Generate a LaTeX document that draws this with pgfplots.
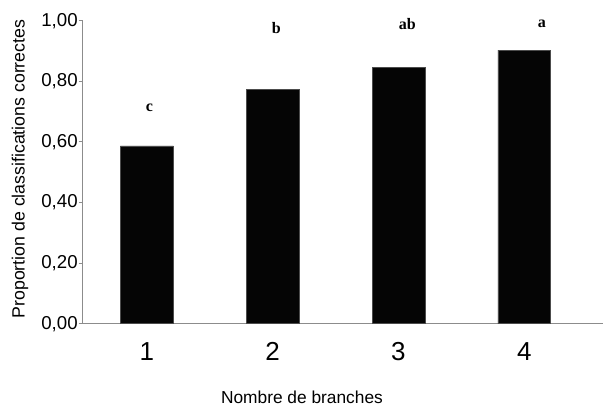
\documentclass[border=0pt]{standalone}
\usepackage{pgfplots}
\pgfplotsset{compat=1.18}
\usepackage{fontspec}
\setmainfont{Liberation Sans}
\newfontfamily\seriffont{Liberation Serif}
\definecolor{axgray}{HTML}{8C8C8C}
\begin{document}
\begin{tikzpicture}
\begin{axis}[
  scale only axis,
  width=390.2pt, height=227.25pt,
  xmin=0.49, xmax=4.625,
  ymin=0, ymax=1,
  axis x line*=bottom,
  axis y line*=left,
  axis line style={axgray, line width=0.8pt},
  ytick={0,0.2,0.4,0.6,0.8,1.0},
  xtick={1,2,3,4},
  xticklabels={1,2,3,4},
  major x tick style={draw=none},
  extra x ticks={1.5,2.5,3.5},
  extra x tick labels={},
  extra x tick style={major tick length=3pt, tick style={axgray, line width=0.8pt}},
  tick align=outside,
  major tick length=3pt,
  y tick style={axgray, line width=0.8pt},
  /pgf/number format/assume math mode=true,
  /pgf/number format/.cd, fixed, fixed zerofill, precision=2, use comma,
  /pgfplots/.cd,
  yticklabel style={font=\fontsize{14pt}{16pt}\selectfont, anchor=east, xshift=2.8pt},
  xticklabel style={font=\fontsize{19.5pt}{22pt}\selectfont, anchor=north, yshift=-7.5pt},
  xlabel={Nombre de branches},
  ylabel={Proportion de classifications correctes},
  xlabel style={font=\fontsize{13pt}{15pt}\selectfont, at={(axis description cs:0.4215,-0.242)}, anchor=center},
  ylabel style={font=\fontsize{13.3pt}{15pt}\selectfont, at={(axis description cs:-0.1205,0.5106)}, anchor=center},
  clip=false,
]
\addplot[ybar, bar width=0.42, fill=black!98, draw=black!70, line width=0.4pt] coordinates {
  (1,0.587) (2,0.774) (3,0.847) (4,0.903)
};
\node[font=\seriffont\bfseries\fontsize{12pt}{14pt}\selectfont] at (axis cs:1.02,0.712) {c};
\node[font=\seriffont\bfseries\fontsize{12pt}{14pt}\selectfont] at (axis cs:2.03,0.976) {b};
\node[font=\seriffont\bfseries\fontsize{12pt}{14pt}\selectfont] at (axis cs:3.07,0.989) {ab};
\node[font=\seriffont\bfseries\fontsize{12pt}{14pt}\selectfont] at (axis cs:4.14,0.989) {a};
\coordinate (sw) at (rel axis cs:0,0);
\end{axis}
\pgfresetboundingbox
\path[use as bounding box] (sw) ++(-62pt,-61.7pt) rectangle ++(452.25pt,304.5pt);
\end{tikzpicture}
\end{document}
